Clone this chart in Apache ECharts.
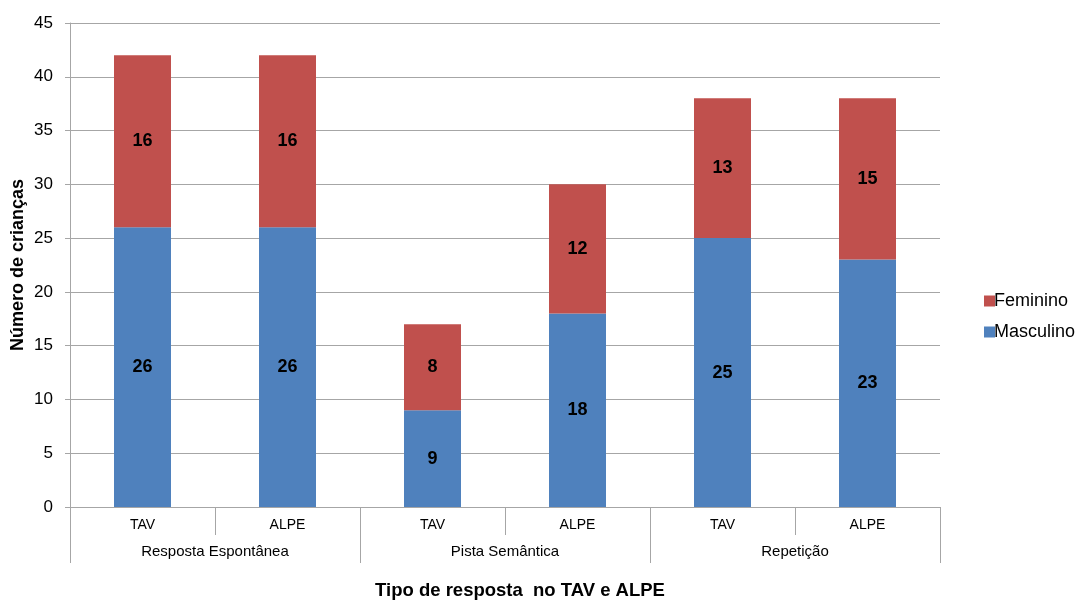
<!DOCTYPE html>
<html>
<head>
<meta charset="utf-8">
<script src="https://cdn.jsdelivr.net/npm/echarts@6/dist/echarts.min.js"></script>
<style>html,body{margin:0;padding:0;background:#fff}#c{width:1081px;height:601px}</style>
</head>
<body>
<div id="c"></div>
<script>
const subCategories = ['TAV', 'ALPE', 'TAV', 'ALPE', 'TAV', 'ALPE'];
const groups = ['Resposta Espontânea', 'Pista Semântica', 'Repetição'];
const masculino = [26, 26, 9, 18, 25, 23];
const feminino = [16, 16, 8, 12, 13, 15];
const yTicks = { min: 0, max: 45, interval: 5 };

const FONT = '"Liberation Sans", Arial, sans-serif';
const chart = echarts.init(document.getElementById('c'));
chart.setOption({
  animation: false,
  grid: { left: 70, right: 141, top: 23, bottom: 94, containLabel: false, outerBoundsMode: 'none' },
  legend: {
    data: ['Feminino', 'Masculino'],
    orient: 'vertical',
    left: 979, top: 287,
    itemWidth: 11, itemHeight: 11, itemGap: 13,
    icon: 'rect',
    textStyle: { fontFamily: FONT, fontSize: 18, color: '#000', padding: [0, 0, 0, -6] }
  },
  xAxis: [
    {
      type: 'category', data: subCategories, position: 'bottom',
      axisLine: { lineStyle: { color: '#a6a6a6', width: 1 } },
      axisTick: { show: true, length: 28, interval: 0, lineStyle: { color: '#a6a6a6' } },
      axisLabel: { interval: 0, margin: 11, fontFamily: FONT, fontSize: 14, color: '#000' },
      name: 'Tipo de resposta  no TAV e ALPE', nameLocation: 'middle', nameGap: 74,
      nameTextStyle: { fontFamily: FONT, fontSize: 18.5, fontWeight: 'bold', color: '#000', padding: [0, 0, 0, 30] }
    },
    {
      type: 'category', data: groups, position: 'bottom', offset: 0,
      axisLine: { show: false },
      axisTick: { show: true, length: 56, interval: 0, lineStyle: { color: '#a6a6a6' } },
      axisLabel: { interval: 0, margin: 37, fontFamily: FONT, fontSize: 15, color: '#000' },
      splitLine: { show: false }
    }
  ],
  yAxis: {
    type: 'value', min: yTicks.min, max: yTicks.max, interval: yTicks.interval,
    axisLine: { show: true, lineStyle: { color: '#a6a6a6' } },
    axisTick: { show: true, length: 5, lineStyle: { color: '#a6a6a6' } },
    axisLabel: { margin: 17, fontFamily: FONT, fontSize: 17, color: '#000' },
    splitLine: { lineStyle: { color: '#a6a6a6', width: 1 } },
    name: 'Número de crianças', nameLocation: 'middle', nameGap: 43, nameMoveOverlap: false,
    nameTextStyle: { fontFamily: FONT, fontSize: 18, fontWeight: 'bold', color: '#000' }
  },
  series: [
    {
      name: 'Masculino', type: 'bar', stack: 'a', data: masculino, barWidth: 57,
      itemStyle: { color: '#4f81bd' },
      label: { show: true, position: 'inside', fontFamily: FONT, fontSize: 18, fontWeight: 'bold', color: '#000' }
    },
    {
      name: 'Feminino', type: 'bar', stack: 'a', data: feminino, barWidth: 57,
      itemStyle: { color: '#c0504d' },
      label: { show: true, position: 'inside', fontFamily: FONT, fontSize: 18, fontWeight: 'bold', color: '#000' }
    }
  ]
});
</script>
</body>
</html>
